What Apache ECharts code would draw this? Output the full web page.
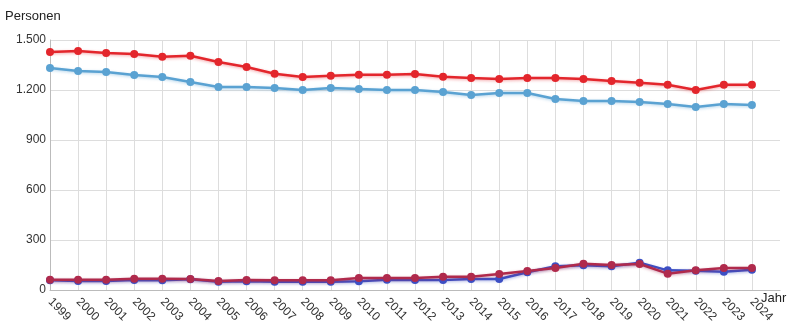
<!DOCTYPE html>
<html><head><meta charset="utf-8">
<script src="https://cdn.jsdelivr.net/npm/echarts@6/dist/echarts.min.js"></script>
<style>html,body{margin:0;padding:0;background:#fff}#c{width:795px;height:331px}</style>
</head><body><div id="c"></div>
<script>
var years = ['1999','2000','2001','2002','2003','2004','2005','2006','2007','2008','2009','2010','2011','2012','2013','2014','2015','2016','2017','2018','2019','2020','2021','2022','2023','2024'];
var yTicks = [0, 300, 600, 900, 1200, 1500];
var seriesRed = [1428,1434,1422,1416,1400,1406,1368,1338,1298,1278,1286,1292,1292,1296,1280,1272,1266,1272,1272,1266,1254,1244,1232,1200,1232,1232];
var seriesLightBlue = [1332,1314,1308,1290,1278,1248,1218,1218,1212,1200,1212,1206,1200,1200,1188,1170,1182,1182,1146,1134,1134,1128,1116,1098,1116,1110];
var seriesBlue = [58,54,54,60,58,65,50,53,50,50,50,52,62,60,60,66,66,106,142,148,142,164,118,116,110,122];
var seriesCrimson = [62,62,62,68,68,66,54,60,58,58,58,72,72,72,80,80,96,114,132,158,150,156,98,118,132,132];

var cats = years.concat(['']);
function mk(data, color, glow) {
  return {
    type: 'line', data: data, symbol: 'circle', symbolSize: 8,
    itemStyle: { color: color },
    lineStyle: { color: color, width: 2.5, shadowColor: glow, shadowBlur: 3, shadowOffsetY: 1 },
    emphasis: { disabled: true }, animation: false
  };
}
var chart = echarts.init(document.getElementById('c'), null, { renderer: 'canvas' });
var ts = { fontFamily: 'Liberation Sans', fontSize: 13, fontWeight: 'normal', color: '#222' };
chart.setOption({
  animation: false,
  title: [
    { text: 'Personen', left: 5, top: 10, padding: 0, textStyle: ts },
    { text: 'Jahr', left: 761, top: 292, padding: 0, textStyle: ts }
  ],
  grid: { left: 50, right: 15, top: 40, bottom: 41, containLabel: false, outerBoundsMode: 'none' },
  xAxis: {
    type: 'category', data: cats, boundaryGap: false,
    axisLine: { lineStyle: { color: '#bbb', width: 1 } },
    axisTick: { show: false },
    axisLabel: { interval: 0, rotate: -45, margin: 10, fontFamily: 'Liberation Sans', fontSize: 12, color: '#333' },
    splitLine: { show: true, interval: function (i, v) { return v !== '' && i !== 0; }, lineStyle: { color: '#ddd', width: 1 } }
  },
  yAxis: {
    type: 'value', min: yTicks[0], max: yTicks[yTicks.length - 1], interval: 300,
    axisLine: { show: true, lineStyle: { color: '#bbb', width: 1 } },
    axisTick: { show: false },
    axisLabel: { margin: 4, fontFamily: 'Liberation Sans', fontSize: 12, color: '#333',
      formatter: function (v) { return v >= 1000 ? String(v).replace(/(\d)(\d{3})$/, '$1.$2') : String(v); } },
    splitLine: { show: true, lineStyle: { color: '#ddd', width: 1 } }
  },
  series: [
    mk(seriesLightBlue, '#5aa2d2', 'rgba(90,162,210,0.45)'),
    mk(seriesRed, '#e3262c', 'rgba(227,38,44,0.4)'),
    mk(seriesBlue, '#3c4fc4', 'rgba(60,79,196,0.4)'),
    mk(seriesCrimson, '#b02a4c', 'rgba(176,42,76,0.4)')
  ]
});
</script></body></html>
